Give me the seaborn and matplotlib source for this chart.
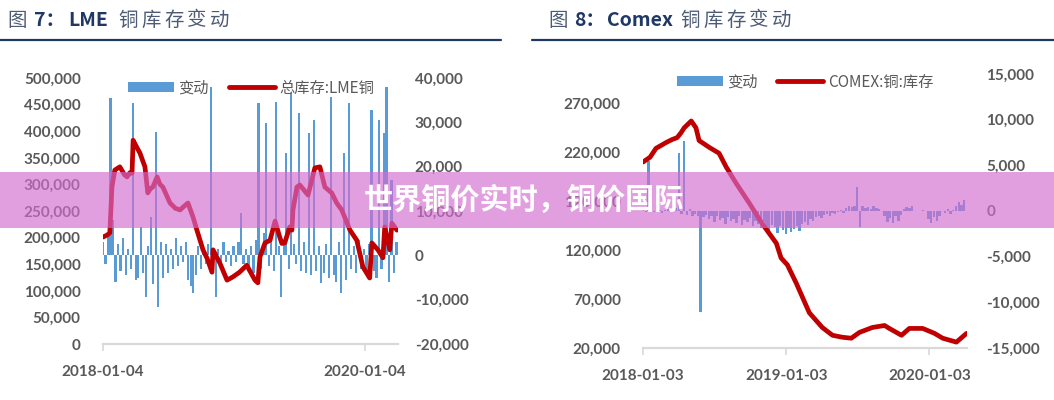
import matplotlib
matplotlib.use("Agg")
import matplotlib.pyplot as plt
from matplotlib.lines import Line2D
from matplotlib.patches import Patch, Rectangle
from matplotlib.ticker import FuncFormatter
import pandas as pd
import seaborn as sns

# ---- LME: total stock (left axis) ----
lme_dates = ["2018-01-04", "2018-01-16", "2018-01-23", "2018-01-29", "2018-02-06", "2018-02-20",
             "2018-03-05", "2018-03-12", "2018-03-20", "2018-03-26", "2018-03-29", "2018-04-08",
             "2018-04-17", "2018-05-01", "2018-05-09", "2018-05-16", "2018-05-23", "2018-06-04",
             "2018-06-12", "2018-06-20", "2018-07-10", "2018-07-25", "2018-08-07", "2018-08-20",
             "2018-08-29", "2018-09-12", "2018-09-23", "2018-10-10", "2018-10-22", "2018-11-04",
             "2018-11-07", "2018-11-26", "2018-12-16", "2019-01-01", "2019-01-20", "2019-02-09",
             "2019-03-04", "2019-03-12", "2019-03-18", "2019-04-01", "2019-04-15", "2019-04-29",
             "2019-05-12", "2019-05-18", "2019-05-26", "2019-06-09", "2019-06-15", "2019-06-18",
             "2019-06-29", "2019-07-07", "2019-07-30", "2019-08-18", "2019-09-01", "2019-09-15",
             "2019-10-04", "2019-10-18", "2019-11-01", "2019-11-24", "2019-12-13", "2019-12-30",
             "2020-01-18", "2020-01-24", "2020-02-10", "2020-02-24", "2020-02-29", "2020-03-14",
             "2020-03-20", "2020-04-03"]
lme_stock = [201000, 205000, 209000, 295000, 327000, 333000,
             318000, 314000, 322000, 321000, 383000, 370000,
             359000, 333000, 284000, 292000, 295000, 314000,
             300000, 295000, 265000, 255000, 252000, 260000,
             265000, 239000, 214000, 177000, 160000, 135000,
             177000, 152000, 120000, 126000, 135000, 148000,
             120000, 115000, 164000, 190000, 195000, 231000,
             201000, 189000, 190000, 220000, 214000, 252000,
             295000, 299000, 280000, 331000, 333000, 295000,
             284000, 265000, 252000, 214000, 195000, 145000,
             124000, 190000, 177000, 162000, 220000, 177000,
             227000, 214000]

# ---- LME: weekly change (right axis) ----
lme_change_start = "2018-01-04"
lme_change = [3000, -2000, 5000, 35500, 8000, -6000, 2500, -3500, 4000, -4500,
              1500, -3000, 34300, -5500, -5000, 6300, -4000, -9500, 2000, 8600,
              -6500, 27800, -11700, 3000, -5000, 2500, -4000, 1500, -3000, 4000,
              -2500, 2000, -1500, 3000, -5500, -7000, -8400, -4500, 2000, -3000,
              1500, -2000, 2500, 38000, -3500, -9500, 1500, -2000, 3000, -1500,
              1000, -2500, 2000, -1500, 3000, 9500, -2000, 1500, -3000, 2000,
              -4000, 3500, 34300, -3000, 5000, 29800, -2500, 4000, -3500, 34500,
              2000, -9500, 3500, 23000, -3000, 36600, 2500, -2000, 32000, -3500,
              3000, -4000, 27500, -4500, 30500, -3500, 2000, -6300, -4000, 2500,
              -5000, 35700, -4500, -6000, 3000, -8400, 23000, -5500, 34300, -3000,
              2000, -4000, 3500, -3000, 1500, -4500, 2500, 32700, -3500, -5000,
              30500, -3000, 27500, 38000, -6000, 17000, -4000, 3000]

# ---- COMEX: stock (left axis) ----
comex_dates = ["2018-01-03", "2018-01-21", "2018-02-05", "2018-03-03", "2018-03-18", "2018-03-31",
               "2018-04-10", "2018-04-18", "2018-05-06", "2018-05-18", "2018-05-26", "2018-06-21",
               "2018-07-16", "2018-08-03", "2018-08-29", "2018-10-01", "2018-11-03", "2018-12-09",
               "2018-12-21", "2019-01-06", "2019-01-29", "2019-03-03", "2019-04-05", "2019-05-01",
               "2019-05-26", "2019-06-18", "2019-07-09", "2019-08-11", "2019-09-11", "2019-09-23",
               "2019-10-24", "2019-11-13", "2019-12-17", "2020-01-16", "2020-02-06", "2020-03-12",
               "2020-04-07"]
comex_stock = [210000, 215000, 224000, 230000, 233000, 235000,
               240000, 245000, 252000, 245000, 232000, 225000,
               219000, 205000, 188000, 168000, 147000, 127000,
               112000, 105000, 86000, 56000, 41000, 33000,
               31000, 30000, 36000, 41000, 43000, 40000,
               33000, 40000, 40000, 35000, 30000, 26000,
               35000]

# ---- COMEX: weekly change (right axis) ----
comex_change_start = "2018-01-03"
comex_change = [200, -150, 5500, 150, -100, 200, 100, -200, 150, 250,
                -150, 200, 300, 6300, -300, 7700, -400, 200, -500, -300,
                -600, -11100, -700, -400, -900, -500, -1200, -600, -1000, -800,
                -1400, -700, -1100, -900, -1300, -600, -1500, -1000, -1200, -800,
                -1600, -1100, -1400, -1900, -1200, -1700, -2200, -1500, -1800, -2400,
                -1600, -2100, -2500, -1900, -2300, -2000, -1600, -2200, -1400, -1200,
                -1500, -900, -1100, -700, -500, -800, -400, -300, -500, -200,
                -300, -100, 150, -200, 300, 500, 400, 600, 2600, -1800,
                500, 300, 400, 200, 500, 300, 200, 0, -500, -1200,
                -800, -1300, -600, -1100, -400, 200, 400, 300, 500, 0,
                0, 0, 100, 0, -900, -1300, -700, -1100, -500, 0,
                -200, 200, -300, 100, 600, 1000, 700, 1200]

BLUE = "#5b9bd5"
RED = "#c00000"
GREY = "#595959"
NAVY = "#1f3864"
SLATE = "#4d5b74"

sns.set_theme(style="white")
plt.rcParams["font.family"] = ["Lato", "Noto Sans CJK SC", "DejaVu Sans"]
CJK = ["Noto Sans CJK SC", "DejaVu Sans"]

W, H = 1054, 400
fig = plt.figure(figsize=(W / 100, H / 100), dpi=100)


def fx(px):
    return px / W


def fy(py):
    return 1 - py / H


def thousands(v, pos):
    return "{:,.0f}".format(v)


def draw_panel(rect, line_dates, line_vals, chg_start, chg_vals, xlim, xticks,
               left_lim, left_ticks, right_lim, right_ticks, labels, legend_xy, right_pad):
    ax = fig.add_axes(rect)      # bars -> right axis
    ax2 = ax.twinx()             # stock line -> left axis
    ax.yaxis.tick_right()
    ax2.yaxis.tick_left()
    ax2.yaxis.set_label_position("left")

    chg = pd.DataFrame({"date": pd.date_range(chg_start, periods=len(chg_vals), freq="7D"),
                        "chg": chg_vals})
    ax.bar(chg["date"], chg["chg"], width=6, color=BLUE, linewidth=0)

    stock = pd.DataFrame({"date": pd.to_datetime(line_dates), "stock": line_vals})
    sns.lineplot(data=stock, x="date", y="stock", ax=ax2, color=RED, linewidth=3.4,
                 solid_joinstyle="round", solid_capstyle="round")

    ax.set_xlim(pd.Timestamp(xlim[0]), pd.Timestamp(xlim[1]))
    ax.set_xticks([pd.Timestamp(t) for t in xticks])
    ax.set_xticklabels(xticks)
    ax.set_ylim(*right_lim)
    ax.set_yticks(right_ticks)
    ax2.set_ylim(*left_lim)
    ax2.set_yticks(left_ticks)
    ax.yaxis.set_major_formatter(FuncFormatter(thousands))
    ax2.yaxis.set_major_formatter(FuncFormatter(thousands))
    for a in (ax, ax2):
        a.set_xlabel("")
        a.set_ylabel("")
        for s in a.spines.values():
            s.set_visible(False)
    ax.spines["bottom"].set_visible(True)
    ax.spines["bottom"].set_color("#d9d9d9")
    ax.spines["bottom"].set_linewidth(1.6)
    ax.tick_params(axis="x", bottom=True, length=5, width=1.2, color="#d9d9d9",
                   pad=10, labelsize=11, labelcolor=GREY)
    ax.tick_params(axis="y", length=0, pad=right_pad, labelsize=11, labelcolor=GREY)
    ax2.tick_params(axis="y", length=0, pad=16, labelsize=11, labelcolor=GREY)
    for lab in ax.get_xticklabels() + ax.get_yticklabels() + ax2.get_yticklabels():
        lab.set_fontweight("bold")

    handles = [Patch(facecolor=BLUE, edgecolor="none"),
               Line2D([], [], color=RED, linewidth=3.5)]
    fig.legend(handles, labels, loc="center", bbox_to_anchor=(fx(legend_xy[0]), fy(legend_xy[1])),
               ncol=2, frameon=False, labelcolor=GREY, handlelength=3.0,
               handleheight=0.65, handletextpad=0.3, columnspacing=1.3,
               prop={"family": CJK, "size": 11})
    return ax, ax2


# left panel: LME
draw_panel([fx(103), 56 / H, fx(398) - fx(103), 266 / H],
           lme_dates, lme_stock, lme_change_start, lme_change,
           ("2018-01-04", "2020-04-06"), ["2018-01-04", "2020-01-04"],
           (0, 500000), list(range(0, 500001, 50000)),
           (-20000, 40000), list(range(-20000, 40001, 10000)),
           ["变动", "总库存:LME铜"], (251, 88), 12)

# right panel: COMEX
draw_panel([fx(643), 52 / H, fx(967) - fx(643), 274 / H],
           comex_dates, comex_stock, comex_change_start, comex_change,
           ("2018-01-03", "2020-04-08"), ["2018-01-03", "2019-01-03", "2020-01-03"],
           (20000, 300000), list(range(20000, 270001, 50000)),
           (-15000, 15000), list(range(-15000, 15001, 5000)),
           ["变动", "COMEX:铜:库存"], (805, 82), 14)


# titles
def title(pieces, y):
    for x, txt, bold in pieces:
        fig.text(fx(x), fy(y), txt, fontsize=14, family=CJK, va="center", ha="left",
                 color=NAVY if bold else SLATE, fontweight="bold" if bold else "normal")


def spaced(x0, txt, step):
    return [(x0 + i * step, ch, False) for i, ch in enumerate(txt)]


title([(7, "图", False), (34, "7：", True), (68, "LME", True)] + spaced(118, "铜库存变动", 23), 20)
title([(548, "图", False), (574, "8：", True), (607, "Comex", True)] + spaced(680, "铜库存变动", 23), 20)

fig.add_artist(Line2D([0, fx(501)], [fy(40), fy(40)], transform=fig.transFigure,
                      color=NAVY, linewidth=1.6))
fig.add_artist(Line2D([fx(532), 1], [fy(40), fy(40)], transform=fig.transFigure,
                      color=NAVY, linewidth=1.6))

# overlay banner
fig.add_artist(Rectangle((0, fy(228)), 1, 56 / H, transform=fig.transFigure,
                         facecolor=(211 / 255, 108 / 255, 208 / 255), alpha=0.65,
                         edgecolor="none", zorder=10))
fig.text(fx(523.5), fy(200), "世界铜价实时，铜价国际", fontsize=21, family=CJK,
         fontweight="bold", color="white", ha="center", va="center", zorder=11)

fig.savefig("out.png", dpi=100)
